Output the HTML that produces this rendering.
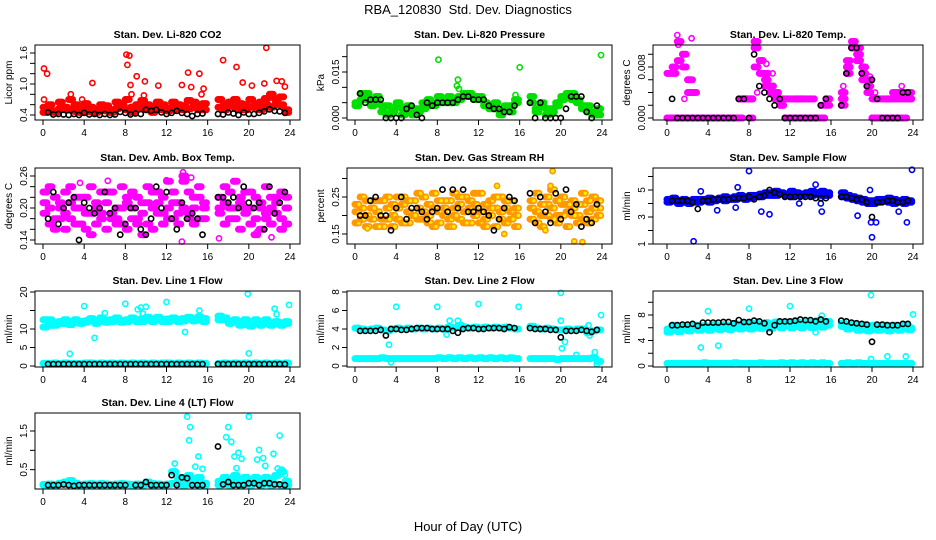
<!DOCTYPE html>
<html><head><meta charset="utf-8"><style>
html,body{margin:0;padding:0;background:#fff;}
svg{display:block;font-family:"Liberation Sans",sans-serif;}
</style></head><body>
<svg id="chart" width="936" height="540" viewBox="0 0 936 540" xmlns="http://www.w3.org/2000/svg">
<rect x="0" y="0" width="936" height="540" fill="#fff"/>
<text x="468" y="14" text-anchor="middle" font-size="13">RBA_120830 &#160;Std. Dev. Diagnostics</text>
<text x="468" y="531" text-anchor="middle" font-size="13">Hour of Day (UTC)</text>
</svg>
<script>
const H=[0,0.5,1,1.5,2,2.5,3,3.5,4,4.5,5,5.5,6,6.5,7,7.5,8,8.5,9,9.5,10,10.5,11,11.5,12,12.5,13,13.5,14,14.5,15,15.5,16,16.5,17,17.5,18,18.5,19,19.5,20,20.5,21,21.5,22,22.5,23,23.5];
const xTicks=[0,4,8,12,16,20,24];
// P1 CO2
const co2A=[0.45,0.5,0.48,0.52,0.55,0.5,0.47,0.55,0.5,0.46,0.45,0.5,0.48,0.5,0.52,0.55,0.5,0.55,0.6,0.52,0.5,0.55,0.52,0.5,0.53,0.5,0.55,0.58,0.52,0.55,0.6,0.5,null,null,0.55,0.6,0.58,0.55,0.5,0.6,0.55,0.6,0.65,0.6,0.55,0.7,0.6,0.5];
const co2B=[0.55,0.6,0.45,0.65,0.5,0.7,0.6,0.45,0.62,0.55,0.5,0.6,0.58,0.45,0.65,0.6,0.7,0.45,0.55,0.68,0.6,0.45,0.65,0.6,0.48,0.65,0.6,0.5,0.68,0.65,0.5,0.62,null,null,0.7,0.5,0.65,0.7,0.62,0.5,0.7,0.55,0.5,0.72,0.8,0.6,0.75,0.45];
const co2Out=[[0.1,1.3],[0.4,1.2],[0.1,0.7],[2.7,0.8],[1.8,0.6],[3.8,0.7],[4.8,1.02],[8.1,1.57],[8.4,1.55],[8.2,1.37],[8.5,0.98],[9.1,1.15],[9.9,1.05],[11.2,0.97],[14.1,1.22],[15.2,1.2],[14.4,0.94],[13.5,0.98],[17.5,1.46],[18.8,1.33],[19.4,1.03],[21.5,1.01],[21.7,1.7],[22.7,1.06],[23.2,1.05],[23.5,0.95],[15.6,0.91],[20.3,0.97],[8.6,0.8],[9.8,0.78],[12.7,0.62],[15.4,0.8]];
const co2K=[null,0.45,0.41,0.42,0.41,0.4,0.42,0.4,0.44,0.41,0.42,0.4,0.42,0.4,0.41,0.46,0.44,0.41,0.43,0.42,0.5,0.48,0.5,0.45,0.42,0.44,0.48,0.44,0.42,0.38,0.42,0.43,null,null,0.42,0.41,0.45,0.43,0.4,0.45,0.42,0.42,0.44,0.47,0.51,0.48,0.47,0.44];
// P2 pressure
const prA=[0.004,0.006,0.008,0.006,0.005,0.004,0.001,0.003,0.004,0.003,0.002,0.001,0.003,0.003,0.004,0.005,0.005,0.006,0.005,0.006,0.007,0.007,0.008,0.007,0.006,0.005,0.004,0.003,0.002,0.003,0.004,0.006,null,null,0.005,0.003,0.004,0.003,0.002,0.004,0.006,0.007,0.008,0.006,0.004,0.002,0.002,0.001];
const prB=[0.005,0.008,0.006,0.004,0.007,0.002,0.004,0.002,0.005,0.001,0.004,0.003,0.002,0.005,0.006,0.004,0.007,0.005,0.007,0.005,0.006,0.008,0.007,0.006,0.007,0.004,0.003,0.005,0.001,0.004,0.002,0.005,null,null,0.007,0.002,0.005,0.001,0.003,0.005,0.007,0.008,0.006,0.005,0.003,0.004,0.001,0.003];
const prOut=[[8.1,0.019],[16,0.0165],[23.9,0.0205],[10,0.0125],[9.9,0.0105],[15.6,0.0075],[10.1,0.0095]];
const prK=[null,0.008,0.005,0.006,0.006,0.006,0.0,0.0,0.0,0.0,0.003,0.004,0.001,0.0,0.005,0.004,0.005,0.005,0.005,0.005,0.006,0.007,0.007,0.006,0.006,0.006,0.004,0.003,0.003,0.002,0.002,0.004,null,null,0.005,0.0,0.005,0.0,0.0,0.0,0.0,0.003,0.007,0.007,0.007,0.002,0.0,0.004];
// P3 temp
const tpA=[0,0,0,0,0,0,0,0,0,0,0,0,0,0,0.003,0.003,0.003,0.012,0.009,0.006,0.005,0.004,0.002,0,0,0,0,0,0,0,0.002,0.002,null,null,0.003,0.007,0.011,0.011,0.008,0.006,0,0,0,0,0,0,0,0.003];
const tpB=[0.007,0.007,0.012,0.008,0.006,0.004,0,0,0,0,0,0,0,0,0,0.003,0.003,0.008,0.007,0.005,0.004,0.003,0.003,0.003,0.003,0.003,0.003,0,0,0,0,0.003,null,null,0.002,0.009,0.012,0.010,0.007,0.004,0.003,0.003,0.003,0.003,0.003,0.003,0.003,0.003];
const tpC=[0,0.008,0.009,0.01,0.004,0,0,0,0,0,0,0,0,0,0.003,0.003,0,0.011,0.009,0.007,0.005,0.003,0.002,0,0,0.003,0.003,0.003,0.003,0,0,0.003,null,null,0.004,0.008,0.011,0.009,0.006,0.005,0,0,0,0.003,0.004,0.004,0.004,0.004];
const tpOut=[[1,0.013],[1.1,0.0115],[2.4,0.0125],[2.5,0.006],[1.7,0.003],[8.8,0.004],[9.7,0.0085],[10.3,0.007],[15.8,0.003],[17.2,0.005],[19.8,0.0065],[20.3,0.004],[22.9,0.005]];
const tpK=[null,0.003,0,0,0,0,0,0,0,0,0,0,0,0,0.003,0.003,0,0.010,0.005,0.004,0.003,0.002,0.003,0,0,0,0,0,0,0,0.002,0.003,null,null,0.002,0.007,0.011,0.011,0.007,0.005,0.006,0.003,0,0,0,0,0.004,0.004];
// P4 amb box temp
const abA=[0.19,0.2,0.22,0.18,0.19,0.21,0.2,0.17,0.22,0.19,0.2,0.18,0.21,0.19,0.2,0.17,0.22,0.2,0.18,0.19,0.21,0.16,0.19,0.22,0.2,0.18,0.21,0.2,0.19,0.22,0.18,0.2,null,null,0.19,0.21,0.18,0.2,0.22,0.19,0.2,0.18,0.21,0.19,0.2,0.22,0.18,0.2];
const abB=[0.23,0.17,0.18,0.21,0.16,0.24,0.17,0.22,0.16,0.24,0.17,0.23,0.16,0.23,0.18,0.24,0.16,0.23,0.17,0.15,0.24,0.2,0.23,0.17,0.25,0.21,0.17,0.25,0.23,0.17,0.22,0.18,null,null,0.22,0.17,0.23,0.25,0.16,0.23,0.17,0.22,0.16,0.24,0.17,0.21,0.23,0.17];
const abC=[0.21,0.24,0.16,0.2,0.23,0.18,0.22,0.2,0.19,0.15,0.21,0.19,0.23,0.18,0.17,0.2,0.21,0.18,0.22,0.21,0.17,0.23,0.21,0.19,0.18,0.23,0.19,0.26,0.18,0.2,0.24,0.21,null,null,0.2,0.24,0.2,0.18,0.21,0.2,0.23,0.15,0.2,0.18,0.22,0.19,0.16,0.22];
const abOut=[[3.6,0.247],[6.3,0.251],[13.6,0.267],[14.4,0.257],[12,0.252],[4.8,0.15],[13.5,0.137],[17.1,0.143],[18.6,0.25],[22.2,0.145],[20.8,0.155]];
const abK=[null,0.18,0.23,0.17,0.2,0.21,0.22,0.14,0.21,0.2,0.19,0.2,0.23,0.19,0.2,0.15,0.17,0.2,0.2,0.16,0.15,0.18,0.24,0.2,0.23,0.18,0.16,0.21,0.18,0.19,0.18,0.15,null,null,0.22,0.22,0.21,0.22,0.2,0.24,0.21,0.2,0.21,0.16,0.24,0.19,0.21,0.23];
// P5 RH
const rhA=[0.21,0.22,0.2,0.24,0.21,0.19,0.22,0.2,0.22,0.23,0.21,0.2,0.22,0.21,0.23,0.22,0.21,0.2,0.24,0.22,0.23,0.21,0.22,0.2,0.21,0.23,0.2,0.22,0.19,0.22,0.21,0.2,null,null,0.22,0.21,0.2,0.23,0.22,0.2,0.23,0.21,0.22,0.2,0.23,0.21,0.19,0.22];
const rhB=[0.18,0.25,0.17,0.19,0.24,0.17,0.25,0.17,0.19,0.25,0.18,0.24,0.19,0.25,0.18,0.26,0.18,0.24,0.17,0.26,0.19,0.25,0.18,0.26,0.18,0.19,0.24,0.17,0.25,0.18,0.24,0.17,null,null,0.19,0.26,0.17,0.25,0.27,0.18,0.25,0.17,0.24,0.18,0.26,0.18,0.25,0.24];
const rhC=[0.23,0.19,0.24,0.22,0.17,0.24,0.19,0.23,0.25,0.18,0.24,0.2,0.26,0.19,0.2,0.17,0.24,0.22,0.19,0.2,0.25,0.18,0.24,0.23,0.26,0.17,0.22,0.25,0.21,0.24,0.19,0.22,null,null,0.24,0.18,0.23,0.2,0.19,0.24,0.2,0.23,0.2,0.23,0.19,0.24,0.22,0.2];
const rhOut=[[13.8,0.28],[19.2,0.32],[19,0.28],[14.5,0.15],[21.3,0.13],[22.1,0.128],[18.5,0.16],[9.6,0.17],[1.2,0.165]];
const rhK=[null,0.2,0.2,0.24,0.25,0.2,0.2,0.16,0.22,0.25,0.19,0.22,0.22,0.21,0.19,0.21,0.22,0.27,0.21,0.27,0.22,0.27,0.21,0.21,0.22,0.21,0.2,0.16,0.19,0.22,0.25,0.24,null,null,0.26,0.18,0.25,0.21,0.18,0.26,0.19,0.27,0.21,0.23,0.17,0.19,0.18,0.23];
// P6 sample flow
const sfA=[4.3,4.4,4.2,4.3,4.2,4.3,4.1,4.3,4.4,4.3,4.4,4.5,4.4,4.5,4.6,4.5,4.6,4.5,4.7,4.6,4.8,4.9,4.8,4.7,4.9,4.8,4.7,4.8,4.9,4.8,4.9,4.8,null,null,4.8,4.6,4.5,4.4,4.3,4.2,4.2,4.3,4.3,4.4,4.3,4.2,4.3,4.2];
const sfB=[4.1,4.2,4.0,4.1,4.0,4.1,4.3,4.2,4.1,4.2,4.3,4.2,4.3,4.3,4.4,4.3,4.4,4.6,4.5,4.8,4.6,4.6,4.7,4.6,4.5,4.6,4.6,4.7,4.6,4.7,4.6,4.6,null,null,4.5,4.4,4.3,4.2,4.1,4.0,4.0,4.1,4.2,4.1,4.0,4.1,4.0,4.1];
const sfOut=[[2.6,1.2],[3.3,4.9],[4.9,3.5],[6.9,5.2],[6.7,3.7],[8,6.4],[9.2,3.4],[10,3.2],[12.9,4.0],[15,4.0],[15.1,3.4],[18.6,3.1],[19.8,5.0],[19.9,2.6],[20.4,2.6],[20,1.5],[22.6,3.4],[23.4,2.6],[23.9,6.5],[14.5,5.4]];
const sfK=[null,4.2,4.2,4.2,4.2,4.1,3.6,4.2,4.2,4.3,4.3,4.3,4.3,4.4,4.4,4.4,4.5,4.3,4.5,4.6,5.0,4.8,4.7,4.5,4.5,4.5,4.5,4.5,4.5,4.4,4.4,4.4,null,null,4.5,4.5,4.4,4.3,4.3,4.1,3.0,4.1,4.1,4.2,4.2,4.1,4.1,4.2];
// P7 line1
const l1A=[12.5,11,11.5,12,11.5,12,11.8,12,12.2,12.3,12,12.2,12.4,12.5,12.2,12.3,12.5,12.6,12.4,12.8,12.5,12.6,12.4,12.6,12.7,12.5,12.6,12.8,12.7,12.6,12.5,12.8,null,null,13.5,12.5,12,12,11.8,11.5,11.2,11.5,11.8,11.6,11.5,11.4,11.6,11.5];
const l1B=[10.5,12.5,11,11.5,12.5,11.2,12.5,11.5,11.8,12.8,11.5,13,11.8,12,13,11.8,12,13,12,12,13.2,12,13.2,12,12,13,12,12.2,13.2,12.2,13.3,12,null,null,12.5,13,11.5,12.5,11,12.5,10.8,12.5,11,12.5,11,12,11,12];
const l1L=[0.7,0.7,0.8,0.7,0.8,0.7,0.7,0.7,0.8,0.8,0.7,0.8,0.7,0.8,0.7,0.8,0.7,0.8,0.7,0.8,0.7,0.8,0.7,0.8,0.8,0.7,0.8,0.7,0.8,0.7,0.8,0.7,null,null,0.7,0.8,0.7,0.8,0.7,0.8,0.7,0.8,0.7,0.8,0.7,0.8,0.7,0.8];
const l1Out=[[2.6,3.3],[4,16.2],[5,7.6],[6,14.3],[8,16.8],[9.2,15.3],[9.5,15.8],[9.7,14.2],[10,16],[12,17.3],[13.8,9.2],[15.2,15],[19.9,19.5],[20,3.4],[22.5,15.5],[22.7,14],[23.9,16.5]];
const l1K=[null,0.5,0.5,0.5,0.5,0.5,0.5,0.5,0.5,0.5,0.5,0.5,0.5,0.5,0.5,0.5,0.5,0.5,0.5,0.5,0.5,0.5,0.5,0.5,0.5,0.5,0.5,0.5,0.5,0.5,0.5,0.5,null,null,0.5,0.5,0.5,0.5,0.5,0.5,0.5,0.5,0.5,0.5,0.5,0.5,0.5,0.5];
// P8 line2
const l2A=[4.1,4.0,3.9,4.0,4.1,3.9,3.8,4.0,4.1,4.0,4.1,4.0,4.1,4.0,4.1,4.0,4.1,4.0,4.2,4.1,4.4,4.2,4.1,4.2,4.1,4.2,4.1,4.2,4.1,4.2,4.1,4.0,null,null,4.3,4.1,4.0,4.1,4.0,3.9,3.9,4.0,3.9,4.0,4.0,3.6,3.8,3.9];
const l2L=[0.8,0.8,0.8,0.8,0.8,0.9,0.8,0.8,0.8,0.8,0.8,0.8,0.8,0.8,0.8,0.8,0.9,0.8,0.9,0.8,0.9,0.8,0.9,0.8,0.9,0.8,0.9,0.8,0.9,0.8,0.9,0.8,null,null,0.8,0.8,0.8,0.8,0.8,0.7,0.8,0.8,0.8,0.8,0.8,0.8,0.9,0.5];
const l2Out=[[3.3,2.3],[3.5,0.4],[4,6.4],[8,6.4],[8.9,3.4],[9.2,4.9],[10,4.9],[12,6.7],[15.9,6.4],[20,7.9],[20,4.9],[20.1,1.9],[20.4,2.6],[21.5,1.2],[22.7,4.4],[22.8,3.3],[23.3,1.5],[23.5,0.2],[23.9,5.5]];
const l2K=[null,3.8,3.8,3.8,3.8,3.9,3.3,4.0,4.0,3.9,3.9,4.0,4.1,4.1,4.1,4.0,4.0,4.0,4.0,3.8,3.6,4.0,4.1,4.1,4.0,4.0,4.1,4.1,4.1,4.0,4.2,4.1,null,null,4.1,4.0,4.0,4.0,3.9,3.9,3.1,3.8,3.8,3.8,3.9,3.8,3.7,3.9];
// P9 line3
const l3A=[5.8,5.6,5.8,5.9,5.7,5.8,5.9,5.8,6.0,6.1,6.0,5.9,6.1,6.0,6.2,6.1,6.2,6.0,6.3,6.2,6.4,6.3,6.2,6.4,6.3,6.2,6.4,6.3,6.5,6.3,6.2,6.4,null,null,6.2,6.0,6.0,5.9,5.8,6.0,5.8,5.9,5.8,5.7,5.8,5.9,5.8,6.0];
const l3B=[5.3,6.4,5.4,6.3,5.5,6.4,5.6,6.3,5.6,6.5,5.7,6.5,5.7,6.6,5.8,6.7,5.8,6.7,5.9,6.8,5.9,6.9,6.0,6.9,6.0,6.9,6.0,7.0,6.0,7.1,6.1,7.0,null,null,6.7,5.8,6.6,5.6,6.5,5.5,6.4,5.6,6.4,5.5,6.4,5.6,6.5,5.7];
const l3L=[0.4,0.4,0.4,0.4,0.4,0.4,0.4,0.5,0.4,0.4,0.4,0.4,0.4,0.5,0.4,0.4,0.4,0.4,0.5,0.4,0.4,0.4,0.5,0.4,0.5,0.4,0.5,0.4,0.5,0.4,0.5,0.4,null,null,0.4,0.5,0.4,0.5,0.4,0.4,0.4,0.4,0.4,0.4,0.4,0.4,0.4,0.4];
const l3Out=[[3.3,2.9],[4,8.6],[5,3.2],[8,9],[12,9.4],[14.5,5.3],[15.1,7.9],[19.9,11.1],[19.9,1.1],[21.5,1.5],[23.3,1.5],[24,8.1]];
const l3K=[null,6.4,6.4,6.5,6.5,6.6,6.3,6.8,6.8,6.8,6.8,6.9,6.9,6.7,7.2,6.9,6.9,7.1,7.0,6.7,5.3,6.4,7.0,7.0,7.0,7.1,7.3,7.2,7.2,7.0,7.3,7.0,null,null,7.1,7.0,6.8,6.7,6.6,6.5,3.8,6.5,6.5,6.4,6.4,6.4,6.6,6.6];
// P10 line4
const l4A=[0.12,0.13,0.12,0.15,0.18,0.22,0.15,0.12,0.13,0.14,0.13,0.14,0.13,0.12,0.13,0.14,0.13,0.12,0.13,0.12,0.18,0.14,0.13,0.12,0.13,0.45,0.3,0.2,0.35,0.25,0.3,0.15,null,null,0.2,0.3,0.25,0.35,0.2,0.3,0.25,0.3,0.2,0.3,0.25,0.35,0.45,0.2];
const l4B=[0.1,0.1,0.1,0.12,0.12,0.14,0.1,0.1,0.11,0.1,0.11,0.1,0.11,0.1,0.11,0.1,0.11,0.1,0.11,0.1,0.12,0.1,0.11,0.1,0.11,0.15,0.12,0.1,0.12,0.15,0.1,0.1,null,null,0.1,0.12,0.1,0.15,0.1,0.12,0.1,0.15,0.1,0.14,0.1,0.12,0.1,0.1];
const l4Out=[[12.8,0.66],[14,1.87],[14.2,1.26],[14.3,1.6],[14.8,0.58],[15.1,0.84],[15.5,0.52],[17.8,1.34],[18,1.6],[18.3,1.22],[18.6,0.84],[18.8,0.54],[19,0.94],[19.3,0.78],[20,1.87],[20.8,0.76],[21,1.01],[21.4,0.8],[21.6,0.6],[22.4,0.91],[23,1.38],[22.8,0.53],[23.2,0.5],[23.5,0.37]];
const l4K=[null,0.1,0.1,0.1,0.12,0.1,0.08,0.1,0.1,0.1,0.1,0.1,0.1,0.1,0.1,0.1,0.1,null,0.1,0.1,0.18,0.1,0.1,0.1,0.1,0.36,0.1,0.3,0.28,0.1,0.1,0.1,null,null,1.1,0.12,0.18,0.1,0.1,0.1,0.15,0.15,0.1,0.15,0.15,0.12,0.12,0.1];

const panels=[
 {name:"li820-co2",title:"Stan. Dev. Li-820 CO2",ylab:"Licor ppm",bx:[35,300],hx:[43,290],by:[45,120],vy:[[0.4,115],[1.6,53]],yt:[0.4,0.6,0.8,1.0,1.2,1.4,1.6],yl:[0.4,1.0,1.6],dec:1,col:"#ff0000",clouds:[co2A,co2B],out:co2Out,blk:co2K},
 {name:"li820-pressure",title:"Stan. Dev. Li-820 Pressure",ylab:"kPa",bx:[347,612],hx:[355,602],by:[45,120],vy:[[0,118],[0.015,72]],yt:[0,0.005,0.01,0.015,0.02],yl:[0,0.015],dec:3,col:"#00e000",clouds:[prA,prB],out:prOut,blk:prK},
 {name:"li820-temp",title:"Stan. Dev. Li-820 Temp.",ylab:"degrees C",bx:[653,923],hx:[667,913],by:[45,120],vy:[[0,118],[0.008,67]],yt:[0,0.002,0.004,0.006,0.008,0.01],yl:[0,0.008],dec:3,col:"#ff00ff",clouds:[tpA,tpB,tpC],out:tpOut,blk:tpK},
 {name:"amb-box-temp",title:"Stan. Dev. Amb. Box Temp.",ylab:"degrees C",bx:[35,300],hx:[43,290],by:[168,244],vy:[[0.14,240],[0.26,176]],yt:[0.14,0.16,0.18,0.2,0.22,0.24,0.26],yl:[0.14,0.2,0.26],dec:2,col:"#ff00ff",clouds:[abA,abB,abC],out:abOut,blk:abK},
 {name:"gas-stream-rh",title:"Stan. Dev. Gas Stream RH",ylab:"percent",bx:[347,612],hx:[355,602],by:[168,244],vy:[[0.15,234],[0.25,197]],yt:[0.15,0.2,0.25,0.3],yl:[0.15,0.25],dec:2,col:"#ff9900",fill:"#ffee00",clouds:[rhA,rhB,rhC],out:rhOut,blk:rhK},
 {name:"sample-flow",title:"Stan. Dev. Sample Flow",ylab:"ml/min",bx:[653,923],hx:[667,913],by:[168,244],vy:[[1,244],[5,190]],yt:[1,2,3,4,5,6],yl:[1,3,5],dec:0,col:"#0000ff",clouds:[sfA,sfB],out:sfOut,blk:sfK},
 {name:"line1-flow",title:"Stan. Dev. Line 1 Flow",ylab:"ml/min",bx:[35,300],hx:[43,290],by:[291,367],vy:[[0,366],[20,292]],yt:[0,5,10,15,20],yl:[0,5,10,20],dec:0,col:"#00ffff",clouds:[l1A,l1B,l1L],out:l1Out,blk:l1K},
 {name:"line2-flow",title:"Stan. Dev. Line 2 Flow",ylab:"ml/min",bx:[347,612],hx:[355,602],by:[291,367],vy:[[0,366],[8,292]],yt:[0,2,4,6,8],yl:[0,2,4,6,8],dec:0,col:"#00ffff",clouds:[l2A,l2L],out:l2Out,blk:l2K},
 {name:"line3-flow",title:"Stan. Dev. Line 3 Flow",ylab:"ml/min",bx:[653,923],hx:[667,913],by:[291,367],vy:[[0,366],[8,315]],yt:[0,2,4,6,8,10],yl:[0,4,8],dec:0,col:"#00ffff",clouds:[l3A,l3B,l3L],out:l3Out,blk:l3K},
 {name:"line4-flow",title:"Stan. Dev. Line 4 (LT) Flow",ylab:"ml/min",bx:[35,300],hx:[43,290],by:[413,489],vy:[[0,489],[1.5,431]],yt:[0.5,1.0,1.5],yl:[0.5,1.5],dec:1,col:"#00ffff",clouds:[l4A,l4B],out:l4Out,blk:l4K}
];
const NS="http://www.w3.org/2000/svg";
const svg=document.getElementById('chart');
function mk(t,a,p){const e=document.createElementNS(NS,t);for(const k in a)e.setAttribute(k,a[k]);(p||svg).appendChild(e);return e;}
function fmt(v,d){return v.toFixed(d);}
const OFFS=[0,0.125,0.25,0.375];
panels.forEach(p=>{
 const g=mk('g',{});
 
 
 const xs=h=>p.hx[0]+(h/24)*(p.hx[1]-p.hx[0]);
 const ys=v=>p.vy[0][1]+(v-p.vy[0][0])/(p.vy[1][0]-p.vy[0][0])*(p.vy[1][1]-p.vy[0][1]);
 const cx=(p.bx[0]+p.bx[1])/2;
 const t=mk('text',{x:cx,y:p.by[0]-7,'text-anchor':'middle','font-size':'10.5','font-weight':'bold'},g);
 t.textContent=p.title;
 
 
 const yl=mk('text',{transform:`translate(${p.bx[0]-23},${(p.by[0]+p.by[1])/2}) rotate(-90)`,'text-anchor':'middle','font-size':'10'},g);
 yl.textContent=p.ylab;
 
 
 const pts=mk('g',{},g);
 
 
 const dot=(h,v,c,f,sw)=>{const e=mk('circle',{cx:xs(h).toFixed(1),cy:ys(v).toFixed(1),r:2.6,fill:f||'none',stroke:c,'stroke-width':sw||1.5},pts);};
 p.clouds.forEach(arr=>{
  arr.forEach((v,i)=>{if(v===null)return;OFFS.forEach(o=>dot(H[i]+o,v,p.col,p.fill,1.8));});
 });
 p.out.forEach(o=>dot(o[0],o[1],p.col,p.fill,1.6));
 p.blk.forEach((v,i)=>{if(v===null)return;dot(H[i],v,'#000','none',1.6);});
 const b=mk('rect',{x:p.bx[0],y:p.by[0],width:p.bx[1]-p.bx[0],height:p.by[1]-p.by[0],fill:'none',stroke:'#000','stroke-width':1},g);
 
 
 const xa=mk('g',{},g);
 
 
 xTicks.forEach(h=>{const x=xs(h);mk('line',{x1:x,x2:x,y1:p.by[1],y2:p.by[1]+5,stroke:'#000'},xa);
  const tx=mk('text',{x:x,y:p.by[1]+16,'text-anchor':'middle','font-size':'10'},xa);tx.textContent=h;
  });
 const ya=mk('g',{},g);
 
 
 p.yt.forEach(v=>{const y=ys(v);mk('line',{x1:p.bx[0]-5,x2:p.bx[0],y1:y,y2:y,stroke:'#000'},ya);});
 p.yl.forEach(v=>{const y=ys(v);const tx=mk('text',{transform:`translate(${p.bx[0]-8},${y}) rotate(-90)`,'text-anchor':'middle','font-size':'10'},ya);tx.textContent=fmt(v,p.dec);
  });
});
</script>
</body></html>
